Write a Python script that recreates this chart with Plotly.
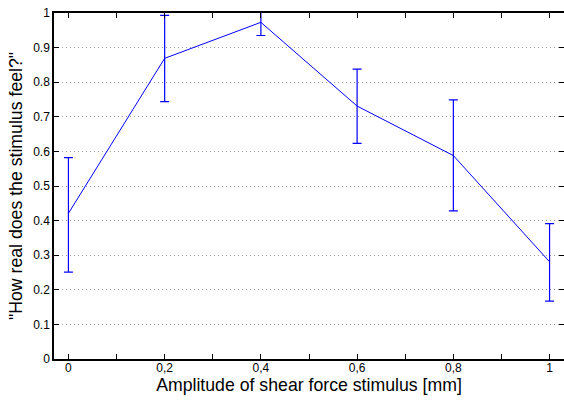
import plotly.graph_objects as go

x_vals = [0.0, 0.2, 0.4, 0.6, 0.8, 1.0]
y_vals = [0.421, 0.869, 0.973, 0.731, 0.588, 0.281]
upper = [0.582, 0.993, 1.01, 0.838, 0.749, 0.391]
lower = [0.251, 0.744, 0.935, 0.623, 0.428, 0.167]

x_tickvals = [0.0, 0.1, 0.2, 0.3, 0.4, 0.5, 0.6, 0.7, 0.8, 0.9, 1.0]
x_ticktext = ["0", "", "0,2", "", "0,4", "", "0,6", "", "0,8", "", "1"]
y_tickvals = [0, 0.1, 0.2, 0.3, 0.4, 0.5, 0.6, 0.7, 0.8, 0.9, 1.0]
y_ticktext = ["0", "0.1", "0.2", "0.3", "0.4", "0.5", "0.6", "0.7", "0.8", "0.9", "1"]

err_plus = [u - y for u, y in zip(upper, y_vals)]
err_minus = [y - l for l, y in zip(lower, y_vals)]

fig = go.Figure()
fig.add_trace(go.Scatter(
    x=x_vals, y=y_vals, mode="lines",
    line=dict(color="#0000ff", width=1),
    error_y=dict(type="data", symmetric=False, array=err_plus, arrayminus=err_minus,
                 color="#0000ff", thickness=1.2, width=4.5),
    showlegend=False,
))

font_family = "Liberation Sans, Arial, sans-serif"
fig.update_layout(
    width=564, height=402,
    margin=dict(l=54, r=0, t=13, b=43),
    paper_bgcolor="white", plot_bgcolor="white",
    font=dict(family=font_family, color="black", size=12),
    xaxis=dict(
        range=[-0.03, 1.03], tickmode="array", tickvals=x_tickvals, ticktext=x_ticktext,
        ticks="inside", ticklen=5, tickwidth=1, tickcolor="black",
        showline=True, linecolor="black", linewidth=1.5, mirror="ticks",
        showgrid=False, zeroline=False, automargin=False,
        tickfont=dict(size=12), ticklabelstandoff=-3,
        title=dict(text="Amplitude of shear force stimulus [mm]", font=dict(size=17.7), standoff=0),
    ),
    yaxis=dict(
        range=[0, 1], tickmode="array", tickvals=y_tickvals, ticktext=y_ticktext,
        ticks="inside", ticklen=5, tickwidth=1, tickcolor="black",
        showline=True, linecolor="black", linewidth=1.5, mirror="ticks",
        showgrid=True, gridcolor="#a0a0a0", griddash="1px,3px", gridwidth=1,
        zeroline=False, automargin=False,
        tickfont=dict(size=12),
        title=dict(text="\"How real does the stimulus feel?\"", font=dict(size=17.7), standoff=6),
    ),
)

fig.write_html(
    "out.html",
    config={"displayModeBar": False},
    post_script="document.body.style.margin='0';document.body.style.overflow='hidden';",
)
